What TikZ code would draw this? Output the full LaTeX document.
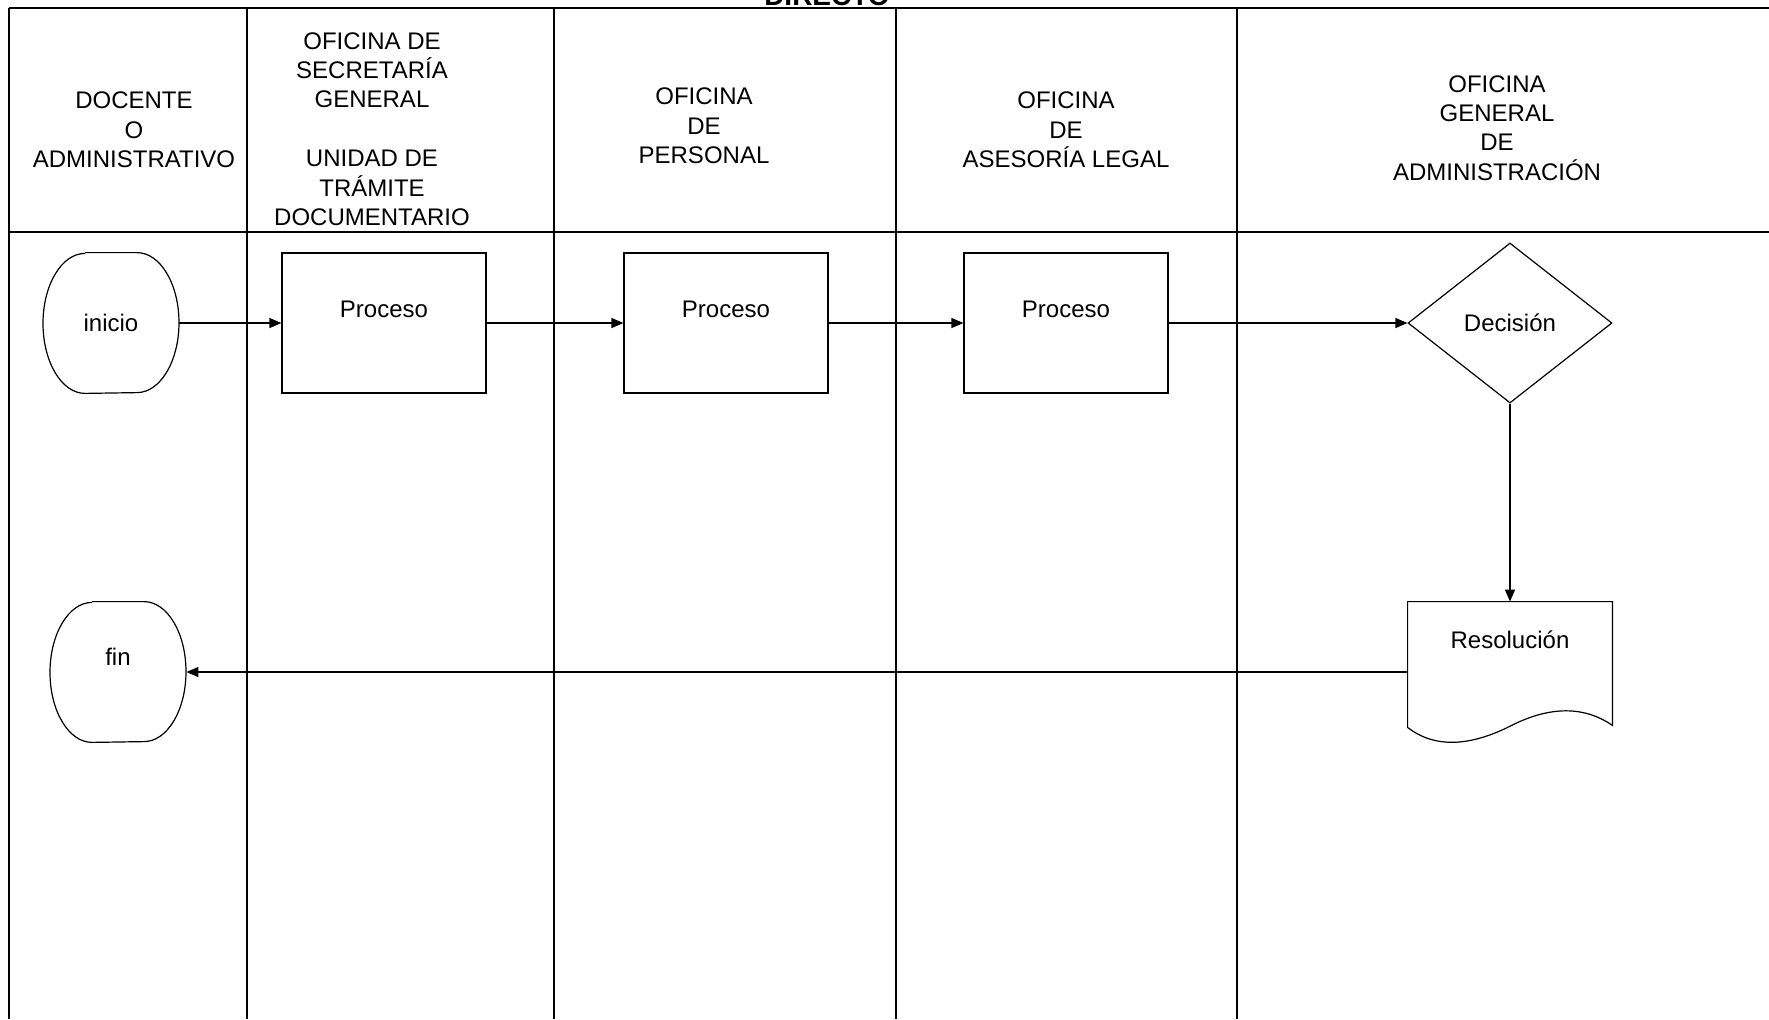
\documentclass[tikz,border=0pt]{standalone}
\usepackage{fontspec}
\setmainfont{Liberation Sans}
\usetikzlibrary{arrows.meta,positioning,shapes.geometric}

\begin{document}
\begin{tikzpicture}[x=0.5pt,y=0.5pt,
    font=\fontsize{12}{14.7}\selectfont,
    carril/.style={line width=0.8pt},
    proc/.style={draw,line width=0.6pt,minimum width=102pt,minimum height=70pt,text height=8pt,text depth=14pt},
    term/.style={minimum width=68pt,minimum height=70pt},
    decis/.style={draw,diamond,line width=0.6pt,minimum width=102pt,minimum height=80pt,inner sep=0pt},
    flecha/.style={-{Triangle[length=6pt,width=5pt]},line width=0.6pt}]
    \useasboundingbox (0,0) rectangle (1769,-1019);
    \clip (0,0) rectangle (1769,-1019);
    % titulo (cortado arriba)
    \node[font=\fontsize{14}{16}\selectfont\bfseries,anchor=base] (titulo) at (827,-5) {DIRECTO};
    % carriles
    \draw[carril] (9,-8) -- (1769,-8);
    \draw[carril] (9,-232) -- (1769,-232);
    \foreach \x in {9,247,554,896,1237}
        \draw[carril] (\x,-8) -- (\x,-1019);
    % encabezados
    \node[align=center] (h1) at (134,-130) {DOCENTE\\O\\ADMINISTRATIVO};
    \node[align=center] (h2) at (372,-129) {OFICINA DE\\SECRETARÍA\\GENERAL\\[14.7pt]UNIDAD DE\\TRÁMITE\\DOCUMENTARIO};
    \node[align=center] (h3) at (704,-126) {OFICINA\\DE\\PERSONAL};
    \node[align=center] (h4) at (1066,-130) {OFICINA\\DE\\ASESORÍA LEGAL};
    \node[align=center] (h5) at (1497,-128) {OFICINA\\GENERAL\\DE\\ADMINISTRACIÓN};
    % nodos
    \node[term] (ini) at (111,-323) {inicio};
    \node[proc] (p1) at (384,-323) {Proceso};
    \node[proc] (p2) at (726,-323) {Proceso};
    \node[proc] (p3) at (1066,-323) {Proceso};
    \node[decis] (dec) at (1510,-323) {Decisión};
    \node[minimum width=102pt,minimum height=70pt,text height=8pt,text depth=32pt] (res) at (1510,-672) {Resolución};
    \node[term,text height=8pt,text depth=14.5pt] (fin) at (118,-672) {fin};
    % bordes de inicio y fin
    \foreach \n in {ini,fin}
        \draw[line width=0.6pt] ([xshift=-13pt]\n.north) -- ([xshift=13pt]\n.north)
            arc[start angle=90,end angle=-90,x radius=42,y radius=70]
            -- ([xshift=-13pt]\n.south)
            arc[start angle=270,end angle=90,x radius=42,y radius=70];
    % documento
    \draw[line width=0.6pt] ([yshift=7.5pt]res.south west) -- (res.north west) -- (res.north east)
        -- ([yshift=8.5pt]res.south east)
        .. controls +(-32,22) and +(35,18) .. ([xshift=51pt,yshift=8pt]res.south west)
        .. controls +(-40,-20) and +(27,-21) .. ([yshift=7.5pt]res.south west) -- cycle;
    % flechas
    \draw[flecha] (ini) -- (p1);
    \draw[flecha] (p1) -- (p2);
    \draw[flecha] (p2) -- (p3);
    \draw[flecha] (p3) -- (dec);
    \draw[flecha] (dec) -- (res);
    \draw[flecha] (res.west) -- (fin.east);
\end{tikzpicture}
\end{document}
